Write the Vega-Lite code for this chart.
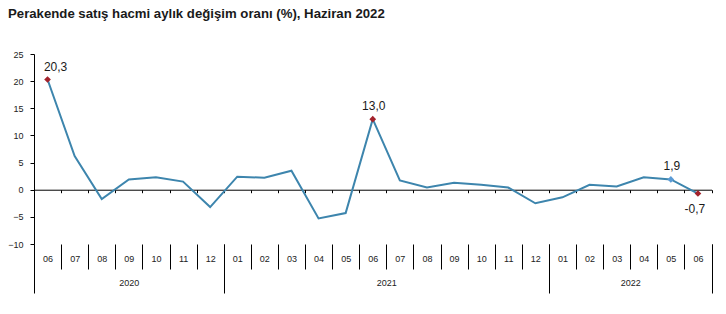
{
  "$schema": "https://vega.github.io/schema/vega-lite/v6.json",
  "width": 677.5,
  "height": 190,
  "autosize": {"type": "none"},
  "padding": {"left": 34, "top": 54, "right": 14, "bottom": 70},
  "background": "white",
  "title": {
    "text": "Perakende satış hacmi aylık değişim oranı (%), Haziran 2022",
    "anchor": "start",
    "frame": "group",
    "dx": -26,
    "offset": 29,
    "fontSize": 13.2,
    "fontWeight": "bold",
    "font": "Liberation Sans",
    "color": "#1a1a1a"
  },
  "config": {"view": {"stroke": null}},
  "data": {
    "values": [
      {"m": "2020-06", "v": 20.3, "lbl": "20,3"},
      {"m": "2020-07", "v": 6.2},
      {"m": "2020-08", "v": -1.7},
      {"m": "2020-09", "v": 1.9},
      {"m": "2020-10", "v": 2.3},
      {"m": "2020-11", "v": 1.5},
      {"m": "2020-12", "v": -3.2},
      {"m": "2021-01", "v": 2.4},
      {"m": "2021-02", "v": 2.2},
      {"m": "2021-03", "v": 3.5},
      {"m": "2021-04", "v": -5.3},
      {"m": "2021-05", "v": -4.3},
      {"m": "2021-06", "v": 13.0, "lbl": "13,0"},
      {"m": "2021-07", "v": 1.7},
      {"m": "2021-08", "v": 0.4},
      {"m": "2021-09", "v": 1.3},
      {"m": "2021-10", "v": 0.9},
      {"m": "2021-11", "v": 0.4},
      {"m": "2021-12", "v": -2.5},
      {"m": "2022-01", "v": -1.4},
      {"m": "2022-02", "v": 0.9},
      {"m": "2022-03", "v": 0.6},
      {"m": "2022-04", "v": 2.3},
      {"m": "2022-05", "v": 1.9, "lbl": "1,9"},
      {"m": "2022-06", "v": -0.7, "lbl": "-0,7"}
    ]
  },
  "encoding": {
    "y": {
      "field": "v",
      "type": "quantitative",
      "scale": {"domain": [-10, 25], "nice": false, "zero": false},
      "axis": {
        "title": null,
        "grid": false,
        "values": [-10, -5, 0, 5, 10, 15, 20, 25],
        "domainColor": "black",
        "tickColor": "black",
        "tickSize": 4,
        "labelPadding": 7,
        "labelFont": "Liberation Sans",
        "labelFontSize": 9,
        "labelColor": "#222222"
      }
    }
  },
  "resolve": {"axis": {"x": "independent"}},
  "layer": [
    {
      "mark": {"type": "line", "color": "#3d85ad", "strokeWidth": 2},
      "encoding": {
        "x": {
          "field": "m",
          "type": "ordinal",
          "scale": {"type": "band", "paddingInner": 0, "paddingOuter": 0},
          "axis": {
            "orient": "bottom",
            "title": null,
            "domain": false,
            "tickBand": "extent",
            "tickSize": 25,
            "tickColor": "black",
            "labelExpr": "isValid(datum.value) ? substring(datum.value, 5) : ''",
            "labelAngle": 0,
            "labelBaseline": "middle",
            "labelPadding": -11,
            "labelFont": "Liberation Sans",
            "labelFontSize": 9,
            "labelColor": "#222222",
            "labelOverlap": false
          }
        }
      }
    },
    {
      "transform": [{"filter": {"field": "m", "oneOf": ["2020-06", "2021-06", "2022-06"]}}],
      "mark": {"type": "point", "shape": "diamond", "filled": true, "opacity": 1, "color": "#a3222b", "size": 45},
      "encoding": {
        "x": {
          "field": "m",
          "type": "ordinal",
          "scale": {"type": "band", "paddingInner": 0, "paddingOuter": 0},
          "axis": {
            "orient": "bottom",
            "title": null,
            "domain": false,
            "tickBand": "extent",
            "tickSize": 49,
            "tickColor": "black",
            "tickOpacity": {
              "condition": {"test": "!isValid(datum.value) || datum.value == '2020-12' || datum.value == '2021-12' || datum.value == '2022-06'", "value": 1},
              "value": 0
            },
            "labelExpr": "datum.value == '2020-09' ? '2020' : datum.value == '2021-06' ? '2021' : datum.value == '2022-03' ? '2022' : ''",
            "labelOffset": {
              "condition": {"test": "datum.value == '2021-06' || datum.value == '2022-03'", "value": 13.55},
              "value": 0
            },
            "labelAngle": 0,
            "labelBaseline": "middle",
            "labelPadding": -11,
            "labelFont": "Liberation Sans",
            "labelFontSize": 9,
            "labelColor": "#222222",
            "labelOverlap": false
          }
        }
      }
    },
    {
      "transform": [{"filter": {"field": "m", "equal": "2022-05"}}],
      "mark": {"type": "point", "shape": "diamond", "filled": true, "opacity": 1, "color": "#5b9bd5", "size": 45},
      "encoding": {
        "x": {
          "field": "m",
          "type": "ordinal",
          "scale": {"type": "band", "paddingInner": 0, "paddingOuter": 0},
          "axis": {
            "orient": "bottom",
            "title": null,
            "offset": -54.29,
            "domain": true,
            "domainColor": "black",
            "domainWidth": 1,
            "tickBand": "extent",
            "tickSize": 3,
            "tickColor": "black",
            "labels": false
          }
        }
      }
    },
    {
      "transform": [{"filter": {"field": "m", "equal": "2020-06"}}],
      "mark": {"type": "text", "font": "Liberation Sans", "fontSize": 12, "color": "#1a1a1a", "dx": 8, "dy": -13},
      "encoding": {
        "x": {"field": "m", "type": "ordinal", "scale": {"type": "band", "paddingInner": 0, "paddingOuter": 0}, "axis": null},
        "text": {"field": "lbl"}
      }
    },
    {
      "transform": [{"filter": {"field": "m", "oneOf": ["2021-06", "2022-05"]}}],
      "mark": {"type": "text", "font": "Liberation Sans", "fontSize": 12, "color": "#1a1a1a", "dx": 1, "dy": -13},
      "encoding": {
        "x": {"field": "m", "type": "ordinal", "scale": {"type": "band", "paddingInner": 0, "paddingOuter": 0}, "axis": null},
        "text": {"field": "lbl"}
      }
    },
    {
      "transform": [{"filter": {"field": "m", "equal": "2022-06"}}],
      "mark": {"type": "text", "font": "Liberation Sans", "fontSize": 12, "color": "#1a1a1a", "dx": -3, "dy": 15},
      "encoding": {
        "x": {"field": "m", "type": "ordinal", "scale": {"type": "band", "paddingInner": 0, "paddingOuter": 0}, "axis": null},
        "text": {"field": "lbl"}
      }
    }
  ]
}
